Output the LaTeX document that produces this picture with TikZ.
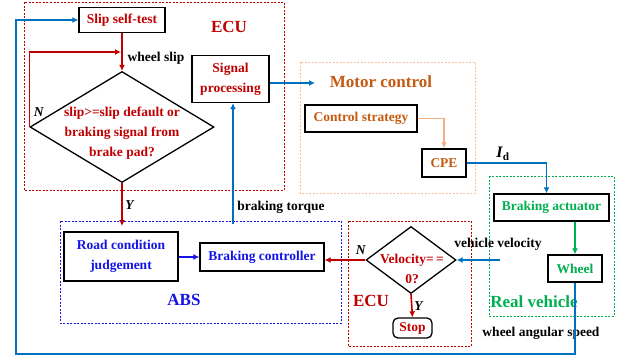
\documentclass[tikz,border=0pt]{standalone}
\usepackage{fontspec}
\setmainfont{Liberation Serif}
\usetikzlibrary{shapes.geometric,arrows.meta}
\definecolor{ecured}{RGB}{192,0,0}
\definecolor{absblue}{RGB}{20,20,230}
\definecolor{arrowblue}{RGB}{0,112,192}
\definecolor{cargreen}{RGB}{0,176,80}
\definecolor{motortext}{RGB}{197,90,17}
\definecolor{motorline}{RGB}{248,190,150}
\definecolor{lightorange}{RGB}{244,177,131}

\begin{document}
\begin{tikzpicture}[x=1pt,y=-1pt,
  every node/.style={font=\bfseries\fontsize{13.5}{20}\selectfont},
  box/.style={draw=black, line width=1.3pt, inner sep=0pt, align=center},
  big/.style={font=\bfseries\fontsize{17}{18}\selectfont},
  region/.style={dash pattern=on 2pt off 1.5pt, line width=0.7pt},
  dec/.style={draw=black, diamond, line width=1.3pt, inner sep=0pt},
  arr/.style={-{Latex[length=6pt,width=6pt]}, line width=1.6pt}]
\useasboundingbox (0,0) rectangle (625,360);

% dashed regions
\draw[region, ecured] (24,2) rectangle (284,190);
\draw[region, motorline] (300,62) rectangle (475,193);
\draw[region, absblue] (60,221) rectangle (341,323);
\draw[region, ecured] (348,221) rectangle (471,346);
\draw[region, cargreen] (489,176) rectangle (614,316);

% ECU (top)
\node[box, text=ecured, minimum width=86, minimum height=25] (slip) at (122,20) {Slip self-test};
\node[big, text=ecured] (ecu1) at (229,27) {ECU};
\node[dec, minimum width=184, minimum height=111] (check) at (122,127) {};
\node[text=ecured, align=center] (checktxt) at (122,133) {slip>=slip default or\\braking signal from\\brake pad?};
\node[box, text=ecured, minimum width=77, minimum height=47] (sig) at (230.5,79) {Signal\\processing};
\node (wslip) at (156,58) {wheel slip};
\node (n1) at (39,112) {\textit{N}};
\node (y1) at (130,205) {\textit{Y}};

% motor control
\node[big, text=motortext] (motor) at (381,82) {Motor control};
\node[box, text=motortext, minimum width=112, minimum height=27] (ctrl) at (361,118.5) {Control strategy};
\node[box, text=motortext, minimum width=44, minimum height=28] (cpe) at (444,163) {CPE};
\node (id) at (503,154) {\fontsize{16}{18}\selectfont\textit{I}\textsubscript{d}};

% real vehicle
\node[box, text=cargreen, minimum width=115, minimum height=27] (actuator) at (551.5,207.5) {Braking actuator};
\node[box, text=cargreen, minimum width=54, minimum height=27] (wheel) at (575,268.5) {Wheel};
\node[big, text=cargreen] (realv) at (534,302) {Real vehicle};
\node (vvel) at (498,244) {vehicle velocity};
\node (wspeed) at (541,333) {wheel angular speed};

% ECU (bottom)
\node[dec, minimum width=90, minimum height=67] (vel) at (411,260) {};
\node[text=ecured, align=center] (veltxt) at (412,269) {Velocity=\,=\\0?};
\node (n2) at (361,250) {\textit{N}};
\node[big, text=ecured] (ecu2) at (371,301) {ECU};
\node (y2) at (419,306) {\textit{Y}};
\node[box, text=ecured, rounded corners=5pt, minimum width=39, minimum height=20] (stop) at (412.5,328) {Stop};

% ABS
\node[box, text=absblue, minimum width=114, minimum height=49] (road) at (121,256.5) {Road condition\\judgement};
\node[box, text=absblue, minimum width=124, minimum height=28] (brake) at (262,257) {Braking controller};
\node[big, text=absblue] (abs) at (184,300) {ABS};
\node (torque) at (281,207) {braking torque};

% connectors
\coordinate (fb) at (121,52);
\coordinate (yend) at (122,226);
\coordinate (bt) at (233,224);
\coordinate (mc) at (315,83);
\coordinate (vv) at (500,260);
\draw[arr, ecured] (slip) -- (check);
\draw[arr, ecured] (check.west) |- (fb);
\draw[arr, ecured] (check.south) -- (yend);
\draw[arr, arrowblue] (bt) -- (bt |- sig.south);
\draw[arr, arrowblue] (sig.east |- mc) -- (mc);
\draw[arr, lightorange] (ctrl.east) -| (cpe.north);
\draw[arr, arrowblue] (cpe.east) -| ([xshift=-5pt]actuator.north);
\draw[arr, cargreen] (wheel.north |- actuator.south) -- (wheel.north);
\draw[arr, arrowblue] (vv) -- (vel.east);
\draw[arr, ecured] (vel.west) -- (vel.west -| brake.east);
\draw[arr, absblue] (road.east |- brake) -- (brake.west);
\draw[arr, ecured] (vel.south) -- (stop.north);
\draw[arr, arrowblue] (wheel.south) |- (16,354) |- (slip.west);
\end{tikzpicture}
\end{document}
